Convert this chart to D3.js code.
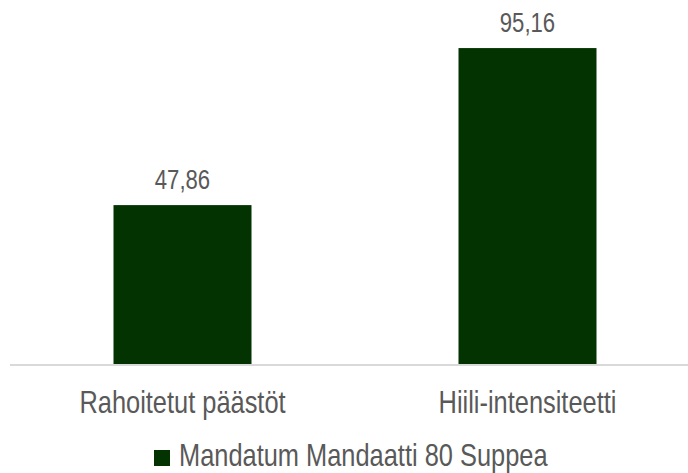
<!DOCTYPE html>
<html>
<head>
<meta charset="utf-8">
<script src="https://cdn.jsdelivr.net/npm/d3@7"></script>
<style>
  body { margin: 0; background: #fff; }
  text { font-family: "Liberation Sans", Arial, sans-serif; fill: #595959; }
</style>
</head>
<body>
<svg width="688" height="473"></svg>
<script>
var categories = ["Rahoitetut päästöt", "Hiili-intensiteetti"];
var values = [47.86, 95.16];
var seriesName = "Mandatum Mandaatti 80 Suppea";

var svg = d3.select("svg"),
    width = +svg.attr("width"),
    height = +svg.attr("height");

var barColor = "#033300";
var narrow = "scale(0.82,1)"; // the original uses a condensed face

var x = d3.scaleBand()
    .domain(categories)
    .range([10, 700])
    .paddingInner(0.6)
    .paddingOuter(0.3);

var y = d3.scaleLinear()
    .domain([0, 100])
    .range([364, 32]);

var data = categories.map(function(c, i) { return {cat: c, val: values[i]}; });

var fmt = function(v) { return d3.format(".2f")(v).replace(".", ","); };

// bars
svg.append("g")
  .selectAll("rect")
  .data(data)
  .enter().append("rect")
    .attr("x", function(d) { return x(d.cat); })
    .attr("y", function(d) { return y(d.val); })
    .attr("width", x.bandwidth())
    .attr("height", function(d) { return y(0) - y(d.val); })
    .attr("fill", barColor);

// baseline
svg.append("line")
    .attr("x1", 10)
    .attr("x2", width)
    .attr("y1", y(0) + 1)
    .attr("y2", y(0) + 1)
    .attr("stroke", "#d9d9d9")
    .attr("stroke-width", 2);

// value labels
svg.append("g")
  .selectAll("g")
  .data(data)
  .enter().append("g")
    .attr("transform", function(d) {
      return "translate(" + (x(d.cat) + x.bandwidth() / 2) + "," + (y(d.val) - 16) + ")";
    })
  .append("text")
    .attr("transform", narrow)
    .attr("text-anchor", "middle")
    .style("font-size", "27px")
    .text(function(d) { return fmt(d.val); });

// category labels
var xAxis = svg.append("g")
    .attr("transform", "translate(0," + y(0) + ")")
    .call(d3.axisBottom(x).tickSize(0).tickPadding(0));
xAxis.select(".domain").remove();
xAxis.selectAll("text")
    .attr("dy", null)
    .attr("y", 49)
    .attr("transform", narrow)
    .attr("font-family", null)
    .style("font-size", "31px")
    .style("fill", "#595959");

// legend
var legend = svg.append("g").attr("transform", "translate(154,450)");
legend.append("rect")
    .attr("width", 16)
    .attr("height", 16)
    .attr("fill", barColor);
legend.append("g")
    .attr("transform", "translate(25,16)")
  .append("text")
    .attr("transform", narrow)
    .style("font-size", "31px")
    .text(seriesName);
</script>
</body>
</html>
